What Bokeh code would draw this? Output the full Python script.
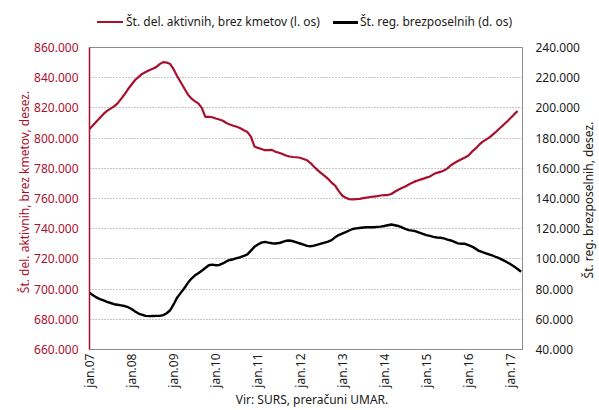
from bokeh.plotting import figure
from bokeh.models import Range1d, LinearAxis, FixedTicker, ColumnDataSource, Div
from bokeh.layouts import column
from bokeh.embed import file_html
from bokeh.resources import INLINE
import math

# ---- data (monthly, Jan 2007 onwards) ----
tick_labels = ["jan.07", "jan.08", "jan.09", "jan.10", "jan.11", "jan.12",
               "jan.13", "jan.14", "jan.15", "jan.16", "jan.17"]
tick_months = [0, 12, 24, 36, 48, 60, 72, 84, 96, 108, 120]

active_k = [
    806, 808.5, 811, 813.5, 816, 818, 819.5, 821, 823, 826, 829, 832.5,
    835.5, 838.5, 840.5, 842.5, 843.8, 845, 846, 847, 849, 850.3, 850, 849,
    845.5, 841, 837, 833, 829, 826.3, 824.5, 823, 820, 814, 814, 813.8,
    813, 812.3, 811.5, 810, 809, 808.2, 807.5, 806.5, 805.2, 804, 801, 794.5,
    793.5, 792.8, 792, 792, 792.2, 791, 790.3, 789.5, 788.5, 787.8, 787.5, 787.3,
    787, 786.2, 785.3, 783.5, 781, 778.8, 776.8, 775, 773, 770.5, 768.5, 765,
    762, 760.5, 759.6, 759.4, 759.6, 759.8, 760.2, 760.6, 761, 761.3, 761.6, 762,
    762.2, 762.3, 763, 764.5, 765.8, 767, 768, 769.3, 770.5, 771.5, 772.3, 773,
    773.8, 774.6, 776, 777, 777.6, 778.5, 780, 782, 783.5, 784.8, 786, 787.2,
    788.5, 791, 793, 795.5, 797.5, 799, 800.5, 802.5, 804.5, 806.7, 808.8, 811,
    813.3, 815.7, 818,
]
unemployed_k = [
    77.5, 76, 74.5, 73.3, 72.5, 71.5, 70.8, 70, 69.6, 69.2, 68.8, 68,
    66.8, 65.2, 63.8, 63, 62.3, 62.1, 62.2, 62.3, 62.3, 62.8, 64, 66,
    70, 74.5, 77.5, 80.5, 84, 86.8, 89, 90.5, 92.2, 94, 95.8, 96.2,
    95.8, 96, 97, 98.3, 99.3, 99.8, 100.5, 101.1, 102, 103, 105.5, 108,
    109.5, 110.8, 111.3, 110.8, 110.4, 110.2, 110.5, 111.2, 112, 112.2, 111.7, 111,
    110.2, 109.4, 108.6, 108.4, 108.8, 109.4, 110.1, 110.8, 111.5, 112.4, 114.3, 115.8,
    116.8, 117.7, 118.8, 119.8, 120.2, 120.5, 120.8, 121, 121, 121, 121.2, 121.4,
    121.8, 122.3, 122.8, 122.3, 121.8, 120.9, 119.9, 119.1, 118.7, 118.3, 117.4, 116.6,
    115.8, 115.2, 114.6, 114.2, 114, 113.6, 112.8, 112.2, 111.3, 110.3, 110, 110,
    109.1, 108.2, 106.8, 105.3, 104.5, 103.6, 102.9, 102.1, 101.1, 100.2, 99, 97.8,
    96.5, 95, 93.3, 91.5,
]
left_ticks = [660000, 680000, 700000, 720000, 740000, 760000, 780000, 800000, 820000, 840000, 860000]
right_ticks = [40000, 60000, 80000, 100000, 120000, 140000, 160000, 180000, 200000, 220000, 240000]

series_names = ["Št. del. aktivnih, brez kmetov (l. os)", "Št. reg. brezposelnih (d. os)"]
left_title = "Št. del. aktivnih, brez kmetov, desez."
right_title = "Št. reg. brezposelnih, desez."
source_text = "Vir: SURS, preračuni UMAR."

RED = "#A8102E"
DARK = "#1a1a1a"
FONT = "Noto Sans"

def fmt(v):
    return f"{v:,}".replace(",", ".")

src_a = ColumnDataSource(dict(x=list(range(len(active_k))), y=[v * 1000 for v in active_k]))
src_u = ColumnDataSource(dict(x=list(range(len(unemployed_k))), y=[v * 1000 for v in unemployed_k]))

p = figure(width=599, height=410, output_backend="svg", toolbar_location=None,
           x_range=Range1d(0, 123.4), y_range=Range1d(660000, 860000),
           min_border_left=89, min_border_right=77, min_border_top=47, min_border_bottom=61)
p.extra_y_ranges = {"right": Range1d(40000, 240000)}

p.outline_line_color = "#8c8c8c"
p.outline_line_width = 1
p.background_fill_color = "white"
p.border_fill_color = "white"

p.xgrid.grid_line_color = None
p.ygrid.grid_line_color = "#8c8c8c"
p.ygrid.grid_line_dash = "1 2"
p.ygrid.grid_line_width = 1

p.line("x", "y", source=src_a, color=RED, line_width=2.2)
p.line("x", "y", source=src_u, color="black", line_width=2.4, y_range_name="right")

def style_axis(ax, color):
    ax.major_label_text_font = FONT
    ax.major_label_text_font_size = "12px"
    ax.major_label_text_color = color
    ax.major_tick_out = 0
    ax.major_tick_in = 0
    ax.minor_tick_out = 0
    ax.minor_tick_in = 0

xa = p.xaxis[0]
xa.ticker = FixedTicker(ticks=tick_months)
xa.major_label_overrides = {m: l for m, l in zip(tick_months, tick_labels)}
xa.major_label_orientation = math.pi / 2
style_axis(xa, DARK)
xa.major_label_standoff = 4
xa.axis_line_color = "#8c8c8c"

ya = p.yaxis[0]
ya.ticker = FixedTicker(ticks=left_ticks)
ya.major_label_overrides = {t: fmt(t) for t in left_ticks}
style_axis(ya, RED)
ya.major_label_standoff = 11
ya.axis_line_color = RED
ya.axis_line_width = 1.5

ra = LinearAxis(y_range_name="right")
ra.ticker = FixedTicker(ticks=right_ticks)
ra.major_label_overrides = {t: fmt(t) for t in right_ticks}
style_axis(ra, DARK)
ra.major_label_standoff = 13
ra.axis_line_color = "#8c8c8c"
p.add_layout(ra, "right")

# ---- texts outside the plot area, laid over the canvas ----
def text_box(txt, w, h, left, top, color, rotate=False):
    st = {"position": "absolute", "left": f"{left}px", "top": f"{top}px",
          "font-family": FONT, "font-size": "12px", "color": color,
          "text-align": "center", "line-height": f"{h}px", "white-space": "nowrap"}
    if rotate:
        st["transform"] = "rotate(-90deg)"
    return Div(text=txt, width=w, height=h, margin=0, styles=st)

# rotated boxes: centre (cx, cy) -> left = cx - w/2, top = cy - h/2
left_div = text_box(left_title, 300, 16, 25 - 150, 192 - 8, RED, rotate=True)
right_div = text_box(right_title, 300, 16, 589 - 150, 200 - 8, DARK, rotate=True)
caption_div = text_box(source_text, 300, 16, 312 - 150, 400 - 8, DARK)

legend_html = (
    '<div style="position:relative;width:599px;height:20px;font-family:\'Noto Sans\';'
    'font-size:12px;color:%s;">'
    '<span style="position:absolute;left:97px;top:9px;width:26px;height:2px;background:%s;"></span>'
    '<span style="position:absolute;left:126px;top:2px;line-height:16px;white-space:nowrap;">%s</span>'
    '<span style="position:absolute;left:333px;top:9px;width:25px;height:2.5px;background:#000;"></span>'
    '<span style="position:absolute;left:360px;top:2px;line-height:16px;white-space:nowrap;">%s</span>'
    '</div>' % (DARK, RED, series_names[0], series_names[1])
)
legend_div = Div(text=legend_html, width=599, height=20, margin=0,
                 styles={"position": "absolute", "left": "0px", "top": "12px"})

layout = column(p, legend_div, left_div, right_div, caption_div, spacing=0)

open("out.html", "w").write(file_html(layout, INLINE))
